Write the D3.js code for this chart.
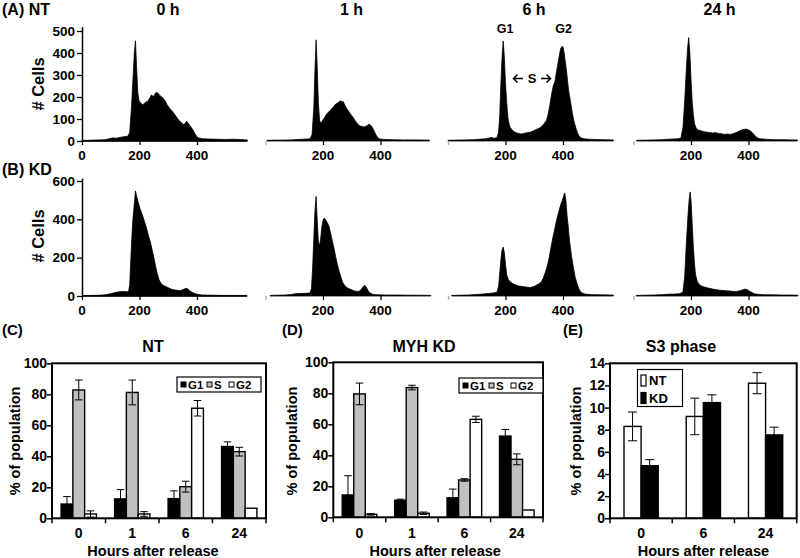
<!DOCTYPE html>
<html><head><meta charset="utf-8">
<script src="https://cdn.jsdelivr.net/npm/d3@7"></script>
<style>
body{margin:0;background:#fff;}
svg text{font-family:"Liberation Sans",Arial,"DejaVu Sans",sans-serif;font-weight:bold;fill:#000;}
</style></head><body>
<svg id="c" width="800" height="558"></svg>
<script>
// ---------------- DATA ----------------
const histTimes = ["0 h", "1 h", "6 h", "24 h"];
const histTicksA = [0, 100, 200, 300, 400, 500];
const histTicksB = [0, 200, 400, 600];
const histXTicks = [0, 200, 400];

// [channel, # cells]
const ntHist0 = [[0,3],[20,3],[40,4],[60,5],[80,6],[95,10],[105,14],[120,13],[135,17],[150,20],[160,22],[166,40],[172,150],[178,300],[182,400],[186,455],[190,330],[194,220],[198,185],[205,170],[212,165],[220,175],[228,180],[236,195],[242,210],[248,200],[254,215],[260,222],[266,215],[272,205],[280,198],[288,185],[296,165],[304,150],[312,138],[320,125],[328,110],[336,95],[344,85],[352,75],[358,78],[364,90],[370,80],[378,65],[386,50],[392,35],[398,22],[405,14],[420,10],[440,9],[470,8],[500,7],[530,8],[560,6],[575,5]];
const ntHist1 = [[5,3],[30,4],[60,4],[90,5],[110,7],[130,8],[145,9],[155,10],[162,30],[168,150],[172,320],[176,460],[180,330],[184,170],[188,95],[192,80],[196,88],[202,100],[208,112],[214,125],[220,132],[226,140],[232,150],[238,158],[244,168],[250,172],[256,178],[262,183],[266,176],[270,180],[276,162],[282,148],[288,138],[294,125],[300,115],[306,104],[312,92],[318,82],[324,72],[330,68],[336,66],[342,64],[348,66],[354,70],[360,76],[366,72],[372,60],[378,45],[384,28],[390,16],[396,10],[410,7],[440,6],[480,5],[520,5],[560,4],[570,4]];
const ntHist6 = [[0,3],[30,4],[60,5],[90,6],[110,8],[130,10],[145,14],[152,16],[160,12],[170,15],[176,40],[180,120],[184,260],[188,380],[192,455],[196,380],[200,260],[204,180],[208,110],[212,80],[216,62],[222,52],[228,44],[236,38],[246,34],[256,32],[266,35],[276,38],[286,40],[296,45],[306,52],[314,56],[322,62],[330,72],[336,82],[342,92],[348,120],[354,160],[360,210],[366,250],[372,270],[378,320],[384,365],[388,395],[392,420],[396,430],[400,428],[404,400],[408,360],[412,320],[416,270],[420,225],[426,180],[432,130],[438,90],[444,62],[450,38],[456,22],[464,14],[474,10],[490,8],[510,7],[540,6],[575,5]];
const ntHist24 = [[10,3],[40,4],[70,5],[100,6],[120,8],[140,9],[155,10],[165,14],[172,60],[178,180],[184,330],[188,420],[192,470],[196,400],[200,280],[204,180],[208,120],[212,80],[218,58],[226,50],[236,46],[246,42],[256,40],[266,38],[276,36],[286,38],[296,34],[306,33],[316,30],[326,32],[336,30],[346,33],[356,38],[366,44],[376,50],[386,53],[394,54],[400,50],[408,44],[416,34],[424,22],[432,14],[440,10],[460,8],[490,6],[520,6],[550,5],[570,5]];
const kdHist0 = [[0,2],[20,2],[40,3],[60,4],[80,6],[100,12],[115,18],[130,22],[145,24],[155,22],[162,24],[166,60],[170,200],[176,380],[182,480],[186,548],[190,520],[196,485],[202,455],[208,430],[214,405],[220,375],[226,345],[232,310],[238,280],[244,240],[250,200],[256,155],[262,115],[268,85],[274,68],[280,58],[288,52],[296,46],[304,40],[312,35],[320,32],[330,30],[340,28],[350,32],[358,38],[364,40],[370,34],[378,24],[386,17],[394,12],[404,8],[420,5],[450,4],[500,3],[540,3],[572,3]];
const kdHist1 = [[16,3],[40,4],[70,5],[90,8],[105,12],[120,13],[140,14],[155,16],[160,40],[164,150],[168,300],[172,440],[176,520],[180,390],[184,280],[188,265],[192,300],[196,360],[200,395],[204,406],[208,400],[214,385],[220,368],[226,330],[232,290],[238,250],[244,205],[250,165],[256,130],[262,100],[268,72],[274,58],[282,45],[290,38],[300,32],[310,26],[320,24],[328,26],[334,36],[340,50],[346,55],[352,42],[358,24],[366,14],[374,8],[390,6],[420,5],[460,5],[500,4],[540,4],[575,3]];
const kdHist6 = [[13,3],[40,4],[70,5],[100,8],[120,10],[140,13],[160,16],[170,20],[176,50],[180,120],[184,190],[188,240],[192,255],[196,225],[200,165],[204,110],[210,85],[218,72],[226,64],[236,58],[246,52],[256,50],[266,48],[276,46],[286,44],[296,48],[306,55],[316,64],[324,72],[332,95],[340,130],[346,160],[352,200],[358,250],[364,300],[370,340],[376,385],[382,420],[388,455],[394,485],[398,500],[402,520],[406,538],[410,500],[414,420],[418,364],[422,300],[426,250],[430,205],[436,150],[442,100],[448,68],[454,42],[460,25],[466,16],[476,10],[500,7],[530,6],[575,5]];
const kdHist24 = [[9,3],[40,4],[70,5],[100,7],[120,9],[145,10],[160,12],[172,20],[178,100],[184,280],[190,430],[194,510],[197,543],[200,500],[204,380],[208,260],[212,170],[216,110],[222,75],[230,58],[240,50],[252,44],[264,40],[276,36],[288,33],[300,30],[312,29],[324,27],[336,26],[348,24],[360,24],[370,27],[380,32],[388,36],[396,33],[404,25],[412,18],[420,12],[430,9],[450,7],[480,6],[520,5],[550,5],[572,4]];

// bar charts (C) and (D)
const hours = ["0", "1", "6", "24"];
const phases = ["G1", "S", "G2"];
const ntG1 = [9.2, 12.5, 12.7, 46.3],   ntG1Err = [4.8, 6.0, 5.0, 3.0];
const ntS  = [82.8, 81.2, 20.4, 43.0],  ntSErr  = [6.4, 8.0, 3.5, 2.8];
const ntG2 = [2.8, 2.8, 71.0, 6.5],     ntG2Err = [2.0, 1.5, 5.0, 0];
const kdG1 = [14.4, 11.0, 12.6, 52.4],  kdG1Err = [12.4, 0.7, 5.6, 4.3];
const kdS  = [79.6, 83.7, 24.1, 37.4],  kdSErr  = [7.0, 1.5, 0.8, 3.5];
const kdG2 = [1.9, 2.6, 63.2, 4.7],     kdG2Err = [0.5, 0.8, 2.0, 0];
const pctTicks = [0, 20, 40, 60, 80, 100];

// bar chart (E) S3 phase
const s3Hours = ["0", "6", "24"];
const s3Groups = ["NT", "KD"];
const s3NT = [8.3, 9.2, 12.2],   s3NTErr = [1.3, 1.65, 0.95];
const s3KD = [4.75, 10.45, 7.53], s3KDErr = [0.55, 0.7, 0.7];
const s3Ticks = [0, 2, 4, 6, 8, 10, 12, 14];

// ---------------- DRAWING ----------------
const svg = d3.select("#c");
const phaseFill = {G1: "#000", S: "#c0c0c0", G2: "#fff", NT: "#fff", KD: "#000"};

function txt(x, y, s, size, anchor, rot) {
  const t = svg.append("text").attr("x", x).attr("y", y).text(s)
    .style("font-size", size + "px").attr("text-anchor", anchor || "start");
  if (rot) t.attr("transform", `rotate(${rot},${x},${y})`);
  return t;
}

// --- histograms ---
const histRows = [
  {data: [ntHist0, ntHist1, ntHist6, ntHist24], base: 141, max: 520, ticks: histTicksA, label: "(A) NT", labelY: 15, cellsY: 84, tickLabY: 160},
  {data: [kdHist0, kdHist1, kdHist6, kdHist24], base: 296, max: 615, ticks: histTicksB, label: "(B) KD", labelY: 175, cellsY: 236, tickLabY: 315}
];
const origins = [82, 265.5, 448, 633.5];
const pxPerUnit = 0.2875;
const perCount = [0.22, 0.1917];

histRows.forEach((row, ri) => {
  txt(2, row.labelY, row.label, 16);
  txt(44, row.cellsY, "# Cells", 16.5, "middle", -90);
  row.data.forEach((d, i) => {
    const x = d3.scaleLinear().domain([0, 575]).range([origins[i], origins[i] + 575 * pxPerUnit]);
    const y = d3.scaleLinear().domain([0, row.max]).range([row.base, row.base - row.max * perCount[ri]]);
    const g = svg.append("g");
    g.append("path").datum(d)
      .attr("d", d3.area().x(p => x(p[0])).y0(y(0)).y1(p => y(p[1])))
      .attr("fill", "#000").attr("stroke", "#000").attr("stroke-width", 0.8);
    const ax = g.append("g").attr("transform", `translate(0,${row.base})`)
      .call(d3.axisBottom(x).tickValues(histXTicks).tickSize(4).tickSizeOuter(0).tickFormat(""));
    ax.selectAll("line").attr("stroke", (t) => (i > 0 && t === 0) ? "#aaa" : "#000").attr("stroke-width", 1.3);
    if (i === 0) ax.select(".domain").attr("stroke-width", 1.5).attr("d", `M${x(0)},0H${x(575)}`);
    else ax.select(".domain").remove();
    histXTicks.forEach(t => { if (i === 0 || t > 0) txt(x(t), row.tickLabY, String(t), 13.5, "middle"); });
    if (i === 0) {
      const ay = g.append("g").attr("transform", `translate(${x(0)},0)`)
        .call(d3.axisLeft(y).tickValues(row.ticks).tickSize(5).tickSizeOuter(0).tickFormat(""));
      ay.select(".domain").attr("stroke-width", 1.5);
      ay.selectAll("line").attr("stroke-width", 1.3);
      row.ticks.forEach(t => txt(x(0) - 7, y(t) + 4.8, String(t), 13.5, "end"));
    }
    if (ri === 0) txt(x(0) + 86, 15, histTimes[i], 16, "middle");
  });
});
// annotations on 6 h NT
txt(505, 33, "G1", 12.5, "middle");
txt(563.5, 33, "G2", 12.5, "middle");
txt(532, 83, "S", 13, "middle");
svg.append("path").attr("d", "M523,78.5H513.5M517.5,74.5L513.5,78.5L517.5,82.5M541,78.5H550.5M546.5,74.5L550.5,78.5L546.5,82.5")
  .attr("fill", "none").attr("stroke", "#000").attr("stroke-width", 1.5);

// --- bar charts ---
function barChart(cfg) {
  const x0 = d3.scaleBand().domain(cfg.cats).range([cfg.left, cfg.right]).paddingInner(cfg.pad).paddingOuter(cfg.pad / 2);
  const x1 = d3.scaleBand().domain(cfg.series.map(s => s.name)).range([0, x0.bandwidth()]);
  const y = d3.scaleLinear().domain([0, cfg.max]).range([cfg.base, cfg.top]);
  const g = svg.append("g");
  cfg.series.forEach(s => {
    cfg.cats.forEach((c, k) => {
      const bx = x0(c) + x1(s.name);
      g.append("rect").attr("x", bx).attr("y", y(s.vals[k])).attr("width", x1.bandwidth())
        .attr("height", y(0) - y(s.vals[k])).attr("fill", phaseFill[s.name])
        .attr("stroke", "#000").attr("stroke-width", 1.4);
    });
  });
  cfg.series.forEach(s => {
    cfg.cats.forEach((c, k) => {
      const e = s.errs[k]; if (!e) return;
      const cx = x0(c) + x1(s.name) + x1.bandwidth() / 2, v = s.vals[k];
      const y1 = y(v + e), y2 = y(Math.max(0, v - e)), hw = cfg.cap;
      g.append("path").attr("d", `M${cx},${y1}V${y2}M${cx - hw},${y1}H${cx + hw}M${cx - hw},${y2}H${cx + hw}`)
        .attr("stroke", "#000").attr("stroke-width", 1).attr("fill", "none");
    });
  });
  g.append("rect").attr("x", cfg.left).attr("y", cfg.top).attr("width", cfg.right - cfg.left)
    .attr("height", cfg.base - cfg.top).attr("fill", "none").attr("stroke", "#000").attr("stroke-width", 2);
  const ay = g.append("g").attr("transform", `translate(${cfg.left},0)`)
    .call(d3.axisLeft(y).tickValues(cfg.ticks).tickSize(5).tickSizeOuter(0).tickFormat(""));
  ay.select(".domain").remove();
  ay.selectAll("line").attr("stroke-width", 1.5);
  cfg.ticks.forEach(t => txt(cfg.left - 5, y(t) + 5, String(t), 14, "end"));
  const bounds = cfg.cats.map(c => x0(c) - x0.step() * cfg.pad / 2).concat([cfg.right]);
  g.selectAll(null).data(bounds).enter().append("line")
    .attr("x1", d => d).attr("x2", d => d).attr("y1", cfg.base).attr("y2", cfg.base + 5)
    .attr("stroke", "#000").attr("stroke-width", 1.5);
  cfg.cats.forEach(c => txt(x0(c) + x0.bandwidth() / 2, 538, c, 14, "middle"));
  txt((cfg.left + cfg.right) / 2 + cfg.xtOff, 556, "Hours after release", 14.5, "middle");
  txt(cfg.ylabX, 441, "% of population", 14.5, "middle", -90);
  txt(cfg.panelX, 335, cfg.panel, 15);
  txt(cfg.titleX, 352, cfg.title, 16, "middle");
  return {x0, x1, y};
}

barChart({cats: hours, left: 52, right: 266, top: 363.3, base: 518.3, max: 100, pad: 0.34, cap: 3.8,
  ticks: pctTicks, ylabX: 20, panel: "(C)", panelX: 2, title: "NT", titleX: 153, xtOff: -6,
  series: [{name: "G1", vals: ntG1, errs: ntG1Err}, {name: "S", vals: ntS, errs: ntSErr}, {name: "G2", vals: ntG2, errs: ntG2Err}]});
barChart({cats: hours, left: 333.3, right: 543, top: 362.3, base: 517.3, max: 100, pad: 0.34, cap: 3.8,
  ticks: pctTicks, ylabX: 297, panel: "(D)", panelX: 282, title: "MYH KD", titleX: 424, xtOff: -3,
  series: [{name: "G1", vals: kdG1, errs: kdG1Err}, {name: "S", vals: kdS, errs: kdSErr}, {name: "G2", vals: kdG2, errs: kdG2Err}]});
barChart({cats: s3Hours, left: 610, right: 796.7, top: 363.3, base: 518.3, max: 14, pad: 0.45, cap: 4.5,
  ticks: s3Ticks, ylabX: 581, panel: "(E)", panelX: 563, title: "S3 phase", titleX: 681, xtOff: 0,
  series: [{name: "NT", vals: s3NT, errs: s3NTErr}, {name: "KD", vals: s3KD, errs: s3KDErr}]});

// legends (C), (D)
function phaseLegend(x, y, w) {
  const g = svg.append("g");
  g.append("rect").attr("x", x).attr("y", y).attr("width", w).attr("height", 15)
    .attr("fill", "#fff").attr("stroke", "#000").attr("stroke-width", 1.2);
  const offs = [4, 30, 52];
  phases.forEach((p, i) => {
    g.append("rect").attr("x", x + offs[i]).attr("y", y + 5).attr("width", 5).attr("height", 5)
      .attr("fill", phaseFill[p]).attr("stroke", "#000").attr("stroke-width", 1);
    txt(x + offs[i] + 7, y + 11.5, p, 11.5);
  });
}
phaseLegend(177, 377, 84);
phaseLegend(459, 378, 84);

// legend (E)
{
  const g = svg.append("g");
  g.append("rect").attr("x", 637.5).attr("y", 369.5).attr("width", 45).attr("height", 37)
    .attr("fill", "#fff").attr("stroke", "#000").attr("stroke-width", 1.2);
  s3Groups.forEach((n, i) => {
    g.append("rect").attr("x", 641).attr("y", 375 + i * 17.5).attr("width", 5).attr("height", 11)
      .attr("fill", phaseFill[n]).attr("stroke", "#000").attr("stroke-width", 1.2);
    txt(649, 385 + i * 17.5, n, 13);
  });
}
</script>
</body></html>
